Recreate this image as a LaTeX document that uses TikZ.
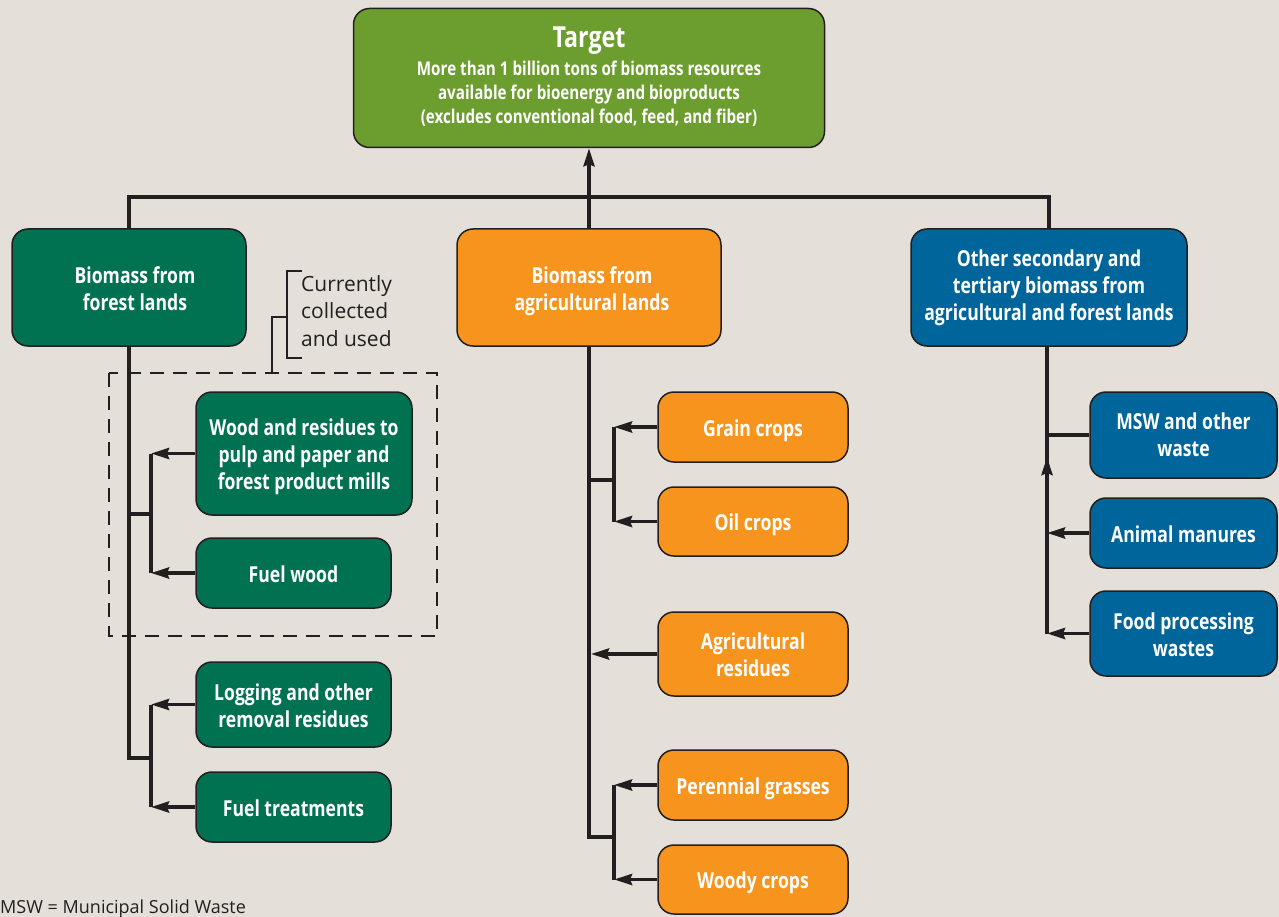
\documentclass[tikz,border=0pt]{standalone}
\usepackage{fontspec}
\setmainfont{Open Sans}[FakeStretch=0.80]
\newfontfamily\plainfont{Open Sans}
\usetikzlibrary{arrows.meta}
\definecolor{bg}{HTML}{E4E0D9}
\definecolor{tgreen}{HTML}{6B9E2F}
\definecolor{fgreen}{HTML}{007151}
\definecolor{aorange}{HTML}{F7941E}
\definecolor{oblue}{HTML}{00659A}
\definecolor{ink}{HTML}{231F20}
\newcommand\tsr{\rule{0pt}{24pt}}
\newcommand\bsr{\rule[-6pt]{0pt}{6pt}}
\tikzset{
  box/.style={draw=ink, line width=1.5pt, rounded corners=16pt, text=white, align=center,
    font=\fontsize{22}{27}\selectfont\bfseries, inner sep=0pt},
  fbox/.style={box, fill=fgreen},
  abox/.style={box, fill=aorange},
  obox/.style={box, fill=oblue},
  link/.style={draw=ink, line width=3.5pt},
  arr/.style={link, -{Stealth[length=18pt,width=11pt,inset=2pt]}},
  note/.style={text=ink, align=left, anchor=west, inner sep=0pt}
}
\begin{document}
\begin{tikzpicture}[x=1pt,y=-1pt]
\fill[bg] (0,0) rectangle (1279,917);
\useasboundingbox (0,0) rectangle (1279,917);

% main nodes
\node[box, fill=tgreen, minimum width=471pt, minimum height=139pt,
      font=\fontsize{19}{24}\selectfont\bfseries] (target) at (589,78)
  {\fontsize{29}{33}\selectfont Target\\[4pt]
   \fontsize{19}{24}\selectfont More than 1 billion tons of biomass resources\\
    available for bioenergy and bioproducts\\
    (excludes conventional food, feed, and fiber)\rule[-5pt]{0pt}{1pt}};
\node[fbox, minimum width=234pt, minimum height=117pt] (forest) at (129,287.5) {\tsr\hspace*{12pt}Biomass from\\\hspace*{12pt}forest lands\bsr};
\node[abox, minimum width=264pt, minimum height=117pt] (agri) at (589,287.5) {\tsr\hspace*{6pt}Biomass from\\\hspace*{6pt}agricultural lands\bsr};
\node[obox, minimum width=276pt, minimum height=117pt] (other) at (1049,287.5) {Other secondary and\\tertiary biomass from\\agricultural and forest lands};

% forest children
\node[fbox, minimum width=216pt, minimum height=123pt] (wood) at (304,453.5) {\tsr Wood and residues to\\pulp and paper and\\forest product mills\bsr};
\node[fbox, minimum width=195pt, minimum height=70pt] (fuelwood) at (293.5,573) {\tsr Fuel wood\bsr};
\node[fbox, minimum width=195pt, minimum height=85pt] (logging) at (293.5,704.5) {\tsr Logging and other\\removal residues\bsr};
\node[fbox, minimum width=195pt, minimum height=70pt] (fueltreat) at (293.5,807) {\tsr Fuel treatments\bsr};

% agricultural children
\node[abox, minimum width=190pt, minimum height=70pt] (grain) at (753,427) {\tsr Grain crops\bsr};
\node[abox, minimum width=190pt, minimum height=69pt] (oil) at (753,521.5) {\tsr Oil crops\bsr};
\node[abox, minimum width=190pt, minimum height=84pt] (agres) at (753,654) {\tsr Agricultural\\residues\bsr};
\node[abox, minimum width=190pt, minimum height=70pt] (perennial) at (753,785) {\tsr Perennial grasses\bsr};
\node[abox, minimum width=190pt, minimum height=69pt] (woody) at (753,879.5) {\tsr Woody crops\bsr};

% other children
\node[obox, minimum width=187pt, minimum height=86pt] (msw) at (1183.5,435) {MSW and other\\waste};
\node[obox, minimum width=187pt, minimum height=70pt] (manure) at (1183.5,533) {\tsr Animal manures\bsr};
\node[obox, minimum width=187pt, minimum height=85pt] (food) at (1183.5,633.5) {\tsr Food processing\\wastes\bsr};

% top bar and arrow to target
\coordinate (bar) at (0,197);
\draw[link] (forest.north) -- (forest.north |- bar) -- (other.north |- bar) -- (other.north);
\draw[arr] (agri.north) -- (target.south);

% forest trunk
\coordinate (fs1) at (151,514);
\coordinate (fs2) at (151,758);
\draw[link] (forest.south) -- (forest.south |- fs2) -- (fs2);
\draw[link] (forest.south |- fs1) -- (fs1);
\draw[link] (wood.west -| fs1) -- (fuelwood.west -| fs1);
\draw[link] (logging.west -| fs2) -- (fueltreat.west -| fs2);
\draw[arr] (wood.west) -- (wood.west -| fs1);
\draw[arr] (fuelwood.west) -- (fuelwood.west -| fs1);
\draw[arr] (logging.west) -- (logging.west -| fs2);
\draw[arr] (fueltreat.west) -- (fueltreat.west -| fs2);

% dashed group and bracket
\draw[draw=ink, line width=1.8pt, dash pattern=on 14pt off 9pt] (109,373) rectangle (437,636);
\coordinate (cb) at (272,373);
\coordinate (cm) at (272,317);
\coordinate (bt) at (287,271);
\coordinate (bb) at (287,358);
\draw[draw=ink, line width=1.8pt] (cb) -- (cm) -- (cm -| bt);
\draw[draw=ink, line width=1.8pt] (302,271) -- (bt) -- (bb) -- (302,358);
\node[note, font=\plainfont\fontsize{21}{27.5}\selectfont, anchor=north west] (cur) at (301,275) {Currently\\collected\\and used};

% agricultural trunk
\coordinate (as1) at (614,480);
\coordinate (as2) at (614,837);
\draw[link] (agri.south) -- (agri.south |- as2) -- (as2);
\draw[link] (agri.south |- as1) -- (as1);
\draw[link] (grain.west -| as1) -- (oil.west -| as1);
\draw[link] (perennial.west -| as2) -- (woody.west -| as2);
\draw[arr] (grain.west) -- (grain.west -| as1);
\draw[arr] (oil.west) -- (oil.west -| as1);
\draw[arr] (perennial.west) -- (perennial.west -| as2);
\draw[arr] (woody.west) -- (woody.west -| as2);
\draw[arr] (agres.west) -- ([xshift=2pt]agres.west -| agri.south);

% other trunk
\coordinate (ot) at (1047,634);
\coordinate (oa) at (1047,457);
\draw[link] (other.south -| ot) -- (ot);
\draw[arr] (ot) -- (oa);
\draw[link] (msw.west) -- (msw.west -| ot);
\draw[arr] (manure.west) -- (manure.west -| ot);
\draw[arr] (food.west) -- (food.west -| ot);

% footnote
\node[note, font=\plainfont\fontsize{18}{22}\selectfont, anchor=base west] (fn) at (0,913) {MSW = Municipal Solid Waste};
\end{tikzpicture}
\end{document}
